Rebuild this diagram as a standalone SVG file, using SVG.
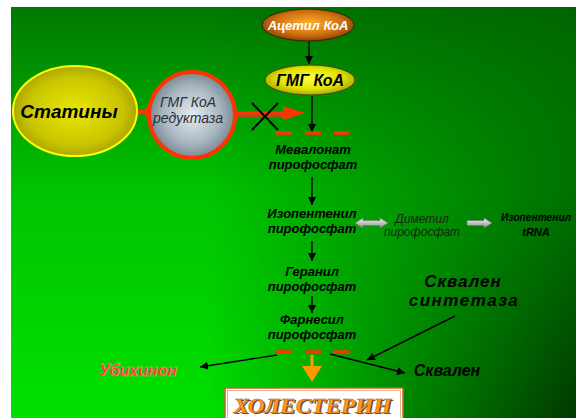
<svg xmlns="http://www.w3.org/2000/svg" width="576" height="418" viewBox="0 0 576 418">
  <defs>
    <linearGradient id="bgV" x1="0" y1="0" x2="0" y2="1">
      <stop offset="0" stop-color="#007800"/>
      <stop offset="0.45" stop-color="#00c400"/>
      <stop offset="1" stop-color="#00e000"/>
    </linearGradient>
    <linearGradient id="bgH" x1="0" y1="0" x2="1" y2="0">
      <stop offset="0" stop-color="#000" stop-opacity="0"/>
      <stop offset="0.35" stop-color="#000" stop-opacity="0"/>
      <stop offset="1" stop-color="#000" stop-opacity="0.75"/>
    </linearGradient>
    <linearGradient id="maskV" x1="0" y1="0" x2="0" y2="1">
      <stop offset="0" stop-color="#fff" stop-opacity="0.2"/>
      <stop offset="1" stop-color="#fff" stop-opacity="1"/>
    </linearGradient>
    <mask id="m1" maskUnits="userSpaceOnUse" x="0" y="0" width="576" height="418">
      <rect x="0" y="0" width="576" height="418" fill="url(#maskV)"/>
    </mask>
    <radialGradient id="gOrange" cx="0.5" cy="0.45" r="0.6">
      <stop offset="0" stop-color="#ffb030"/>
      <stop offset="0.6" stop-color="#d07010"/>
      <stop offset="1" stop-color="#7a3a00"/>
    </radialGradient>
    <radialGradient id="gYellow" cx="0.5" cy="0.45" r="0.6">
      <stop offset="0" stop-color="#ffff40"/>
      <stop offset="0.6" stop-color="#e0e000"/>
      <stop offset="1" stop-color="#9a9a00"/>
    </radialGradient>
    <radialGradient id="gStat" cx="0.5" cy="0.5" r="0.55">
      <stop offset="0" stop-color="#e8e800"/>
      <stop offset="0.7" stop-color="#c8c400"/>
      <stop offset="1" stop-color="#a09a00"/>
    </radialGradient>
    <radialGradient id="gGrey" cx="0.5" cy="0.5" r="0.55">
      <stop offset="0" stop-color="#e4ecf2"/>
      <stop offset="0.6" stop-color="#a8b6c0"/>
      <stop offset="1" stop-color="#6a7a86"/>
    </radialGradient>
    <linearGradient id="gBlock" x1="0" y1="0" x2="0" y2="1">
      <stop offset="0" stop-color="#f4f4f4"/>
      <stop offset="1" stop-color="#909090"/>
    </linearGradient>
    <marker id="ah" markerUnits="userSpaceOnUse" markerWidth="9" markerHeight="8" refX="8" refY="4" orient="auto">
      <path d="M0,0 L8,4 L0,8 z" fill="#000"/>
    </marker>
    <style>
      .lbl { font-family: "Liberation Sans", Arial, sans-serif; font-style: italic; font-weight: bold; font-size: 13px; fill: #000; text-anchor: middle; }
      .conn { stroke: #000; stroke-width: 1.4; fill: none; marker-end: url(#ah); }
      .dash { stroke: #ff3300; stroke-width: 3.5; }
      .red { stroke: #ff3300; stroke-width: 4.5; fill: none; }
    </style>
  </defs>

  <rect x="0" y="0" width="576" height="418" fill="#fff"/>
  <rect x="11" y="7" width="565" height="411" fill="url(#bgV)"/>
  <rect x="11" y="7" width="565" height="411" fill="url(#bgH)" mask="url(#m1)"/>

  <g id="connectors">
    <line class="conn" x1="309" y1="41" x2="309" y2="64"/>
    <line class="conn" x1="312" y1="96" x2="312" y2="132"/>
    <line class="conn" x1="312" y1="177" x2="312" y2="205"/>
    <line class="conn" x1="312" y1="241" x2="312" y2="261"/>
    <line class="conn" x1="312" y1="296" x2="312" y2="313"/>
    <line class="conn" x1="277" y1="355" x2="200" y2="367"/>
    <line class="conn" x1="330" y1="354" x2="405" y2="373"/>
    <line class="conn" x1="455" y1="316" x2="367" y2="360"/>
    <line class="red" x1="113" y1="112" x2="148" y2="112"/>
    <polygon points="145,106 158,112 145,118" fill="#ff3300"/>
    <line x1="236" y1="115" x2="288" y2="115" stroke="#a85020" stroke-width="5"/>
    <line x1="236" y1="113" x2="288" y2="113" stroke="#ff3300" stroke-width="3"/>
    <polygon points="283,106 305,113 283,120" fill="#ff3300"/>
    <g id="cross" stroke="#000" stroke-width="2">
      <line x1="252" y1="103" x2="278" y2="130"/>
      <line x1="278" y1="103" x2="252" y2="130"/>
    </g>
    <line class="dash" x1="275" y1="133" x2="292" y2="133"/>
    <line class="dash" x1="305" y1="133" x2="321" y2="133"/>
    <line class="dash" x1="334" y1="133" x2="349" y2="133"/>
    <line class="dash" x1="275" y1="352" x2="292" y2="352"/>
    <line class="dash" x1="305" y1="352" x2="321" y2="352"/>
    <line class="dash" x1="333" y1="352" x2="349" y2="352"/>
    <line x1="312" y1="355" x2="312" y2="367" stroke="#ff9900" stroke-width="3"/>
    <polygon points="302,366 322,366 312,382" fill="#ff9900"/>
    <polygon points="355,223 363,218 363,220.5 380,220.5 380,218 388,223 380,228 380,225.5 363,225.5 363,228" fill="url(#gBlock)" stroke="#707070" stroke-width="0.6"/>
    <polygon points="467,220.5 484,220.5 484,218 492,223 484,228 484,225.5 467,225.5" fill="url(#gBlock)" stroke="#707070" stroke-width="0.6"/>
  </g>

  <g id="acetyl">
    <ellipse cx="308" cy="25" rx="46" ry="16" fill="url(#gOrange)" stroke="#3a2000" stroke-width="1"/>
    <text x="308" y="30" class="lbl" style="font-size:13px; fill:#fff;">Ацетил КоА</text>
  </g>

  <g id="hmg">
    <ellipse cx="310" cy="80" rx="45" ry="15" fill="url(#gYellow)" stroke="#4a4a00" stroke-width="1"/>
    <text x="310" y="86" class="lbl" style="font-size:16px;">ГМГ КоА</text>
  </g>

  <g id="statins">
    <ellipse cx="75" cy="111" rx="62" ry="45" fill="url(#gStat)" stroke="#ffff00" stroke-width="2"/>
    <text x="69" y="118" class="lbl" style="font-size:19px;">Статины</text>
  </g>

  <g id="reductase">
    <circle cx="192" cy="115" r="43" fill="url(#gGrey)" stroke="#ff3300" stroke-width="4"/>
    <text x="188" y="107" class="lbl" style="font-size:14px; font-weight:normal; fill:#2a3038;">ГМГ КоА</text>
    <text x="188" y="123" class="lbl" style="font-size:14px; font-weight:normal; fill:#2a3038;">редуктаза</text>
  </g>

  <g id="mevalonate">
    <text x="313" y="154" class="lbl">Мевалонат</text>
    <text x="313" y="169" class="lbl">пирофосфат</text>
  </g>

  <g id="ipp">
    <text x="312" y="218" class="lbl">Изопентенил</text>
    <text x="312" y="233" class="lbl">пирофосфат</text>
  </g>

  <g id="dmapp">
    <text x="422" y="223" class="lbl" style="font-size:12px; font-weight:normal; fill:#1a241a;">Диметил</text>
    <text x="422" y="236" class="lbl" style="font-size:12px; font-weight:normal; fill:#1a241a;">пирофосфат</text>
  </g>

  <g id="ipt">
    <text x="536" y="221" class="lbl" style="font-size:11px;" textLength="70" lengthAdjust="spacingAndGlyphs">Изопентенил</text>
    <text x="536" y="236" class="lbl" style="font-size:11px;">tRNA</text>
  </g>

  <g id="geranyl">
    <text x="312" y="276" class="lbl">Геранил</text>
    <text x="312" y="291" class="lbl">пирофосфат</text>
  </g>

  <g id="farnesyl">
    <text x="312" y="324" class="lbl">Фарнесил</text>
    <text x="312" y="339" class="lbl">пирофосфат</text>
  </g>

  <g id="squalene-synthase">
    <text x="463" y="287" class="lbl" style="font-size:17px; letter-spacing:1px;">Сквален</text>
    <text x="464" y="306" class="lbl" style="font-size:17px; letter-spacing:1.5px;">синтетаза</text>
  </g>

  <g id="ubiquinone">
    <text x="138" y="376" class="lbl" style="font-size:16px; fill:#ff2a2a; stroke:#ffb0a0; stroke-width:0.4;">Убихинон</text>
  </g>

  <g id="squalene">
    <text x="447" y="376" class="lbl" style="font-size:16px;">Сквален</text>
  </g>

  <g id="cholesterol">
    <rect x="225" y="388" width="178" height="34" fill="#fff" stroke="#c8602a" stroke-width="1.5"/>
    <rect x="227.5" y="390.5" width="173" height="30" fill="none" stroke="#e8a070" stroke-width="0.8"/>
    <text x="314" y="414" text-anchor="middle" font-family="Liberation Serif, Times New Roman, serif" font-style="italic" font-weight="bold" font-size="21" textLength="158" lengthAdjust="spacingAndGlyphs" fill="#5a4a3a">ХОЛЕСТЕРИН</text>
    <text x="312.5" y="412.5" text-anchor="middle" font-family="Liberation Serif, Times New Roman, serif" font-style="italic" font-weight="bold" font-size="21" textLength="158" lengthAdjust="spacingAndGlyphs" fill="#ff9a1a" stroke="#c06010" stroke-width="0.4">ХОЛЕСТЕРИН</text>
  </g>
</svg>
